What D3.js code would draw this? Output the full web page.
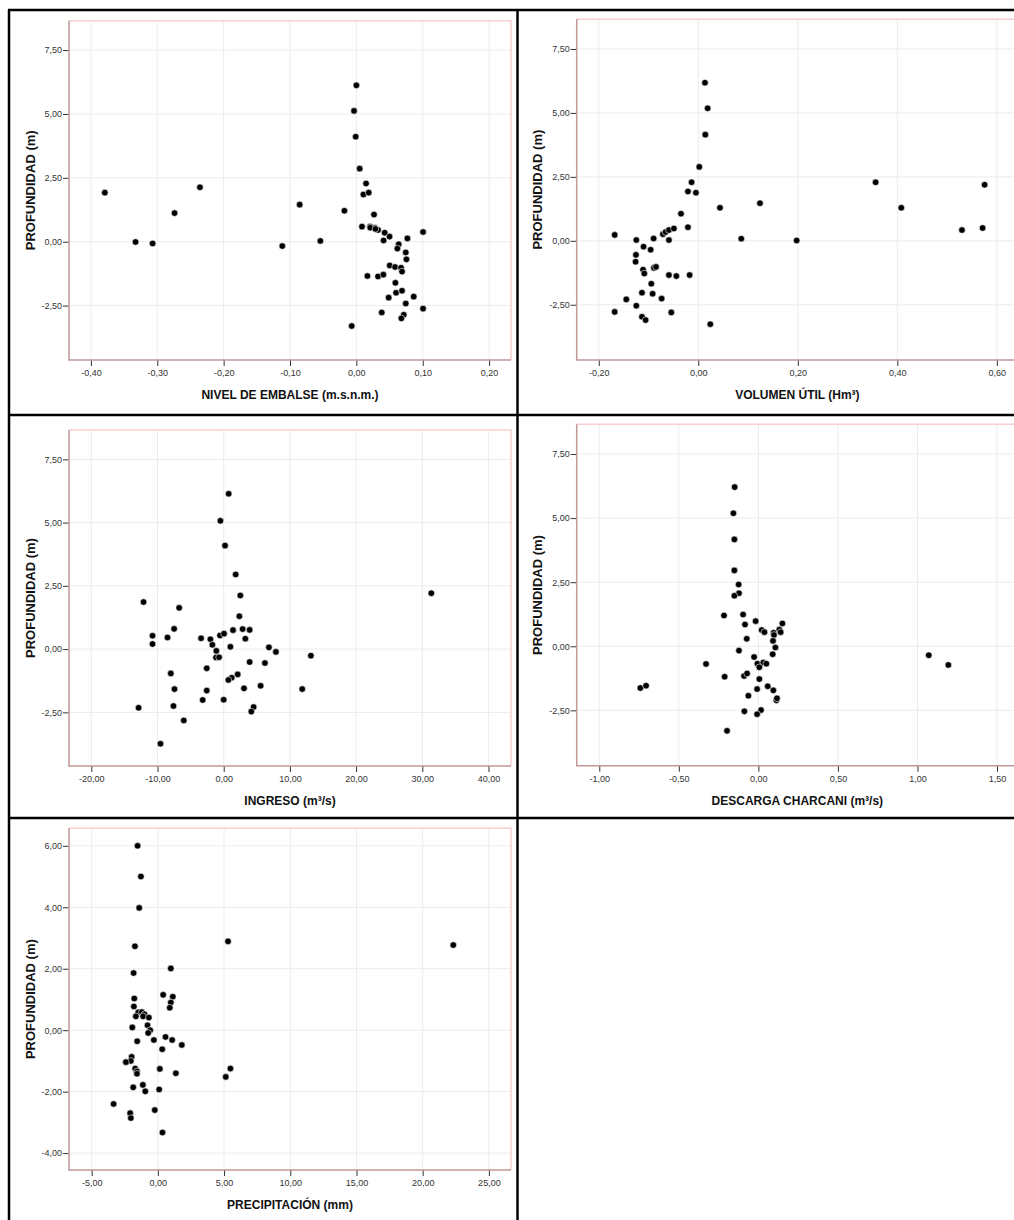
<!DOCTYPE html>
<html>
<head>
<meta charset="utf-8">
<script src="https://cdn.jsdelivr.net/npm/d3@7"></script>
<style>
html,body{margin:0;padding:0;background:#fff;}
svg{display:block;}
text{font-family:"Liberation Sans",Arial,sans-serif;}
</style>
</head>
<body>
<svg id="chart" width="1014" height="1220"></svg>
<script>
// ---------- DATA ----------
const yLabel = "PROFUNDIDAD (m)";

const nivelX = [0.000,-0.0035,-0.001,0.005,0.0146,0.0106,0.0186,-0.379,-0.2357,-0.274,-0.0854,-0.018,0.0266,-0.3327,-0.307,-0.1116,-0.0543,0.0085,0.0206,0.028,0.0327,0.0427,0.050,0.041,0.0769,0.1005,0.0638,0.0618,0.0744,0.0754,0.0503,0.0583,0.0673,0.0688,0.0166,0.0327,0.0407,0.0588,0.0598,0.0688,0.0487,0.0864,0.0744,0.1005,0.0382,0.0714,0.0678,-0.007,0.021,0.0287];
const nivelY = [6.12,5.12,4.11,2.86,2.28,1.85,1.92,1.92,2.13,1.12,1.45,1.21,1.06,-0.01,-0.07,-0.17,0.03,0.59,0.59,0.54,0.46,0.35,0.20,0.05,0.13,0.38,-0.10,-0.27,-0.42,-0.69,-0.93,-0.99,-1.02,-1.17,-1.34,-1.36,-1.29,-1.61,-2.00,-1.92,-2.19,-2.15,-2.42,-2.62,-2.77,-2.86,-3.00,-3.30,0.55,0.50];
const nivelTicks = [-0.4,-0.3,-0.2,-0.1,0,0.1,0.2];

const volX = [0.0134,0.0188,0.0141,0.002,-0.0134,-0.0208,-0.0047,0.3565,0.5755,0.408,0.124,0.0436,-0.0348,0.530,0.5715,0.0864,0.1977,-0.168,-0.1246,-0.0898,-0.059,-0.071,-0.0657,-0.059,-0.049,-0.0208,-0.110,-0.0958,-0.1253,-0.126,-0.111,-0.1085,-0.0891,-0.085,-0.059,-0.0442,-0.0174,-0.0945,-0.1132,-0.0918,-0.0737,-0.1447,-0.1246,-0.168,-0.0543,-0.1132,-0.1059,0.0241];
const volY = [6.18,5.18,4.15,2.89,2.29,1.93,1.88,2.29,2.19,1.29,1.47,1.29,1.06,0.42,0.50,0.08,0.01,0.23,0.03,0.09,0.03,0.26,0.34,0.42,0.48,0.53,-0.23,-0.35,-0.55,-0.82,-1.13,-1.28,-1.06,-1.02,-1.34,-1.38,-1.34,-1.68,-2.03,-2.07,-2.26,-2.29,-2.54,-2.78,-2.80,-2.97,-3.10,-3.26];
const volTicks = [-0.2,0,0.2,0.4,0.6];

const ingX = [0.75,-0.50,0.20,1.81,2.51,31.36,-12.11,-6.73,2.36,-7.49,-10.75,-10.75,-8.49,-3.42,-2.01,-1.71,-0.55,0.05,1.41,2.86,3.92,3.27,1.01,-1.11,-1.16,-0.70,6.83,7.89,13.17,3.92,6.23,-2.56,-7.99,2.11,1.21,0.70,-7.44,-2.56,3.07,5.58,11.86,-3.17,0.0,-7.59,-12.86,4.52,4.17,-6.03,-9.55];
const ingY = [6.14,5.07,4.09,2.95,2.12,2.21,1.86,1.63,1.30,0.80,0.53,0.20,0.46,0.43,0.39,0.17,0.54,0.61,0.75,0.79,0.76,0.41,0.09,-0.07,-0.33,-0.32,0.07,-0.11,-0.26,-0.51,-0.55,-0.76,-0.96,-1.00,-1.13,-1.22,-1.58,-1.64,-1.55,-1.45,-1.58,-2.01,-2.00,-2.25,-2.32,-2.29,-2.47,-2.82,-3.74];
const ingTicks = [-20,-10,0,10,20,30,40];

const desX = [-0.149,-0.157,-0.151,-0.151,-0.124,-0.122,-0.151,-0.216,-0.096,-0.084,-0.017,0.021,0.038,0.096,0.098,0.132,0.140,0.151,-0.073,0.092,0.107,-0.122,0.090,-0.027,-0.329,-0.006,0.031,0.050,0.006,1.071,1.194,-0.212,-0.090,-0.071,0.006,-0.742,-0.706,0.059,-0.008,0.094,-0.063,0.113,0.117,-0.088,0.017,-0.008,-0.197];
const desY = [6.21,5.19,4.17,2.96,2.41,2.07,1.97,1.20,1.24,0.85,0.98,0.63,0.55,0.53,0.44,0.65,0.55,0.89,0.29,0.21,-0.05,-0.17,-0.31,-0.42,-0.69,-0.68,-0.64,-0.68,-0.82,-0.35,-0.73,-1.19,-1.16,-1.06,-1.28,-1.63,-1.54,-1.56,-1.67,-1.72,-1.93,-2.11,-2.03,-2.54,-2.49,-2.65,-3.30];
const desTicks = [-1,-0.5,0,0.5,1,1.5];

const preX = [-1.53,-1.28,-1.41,5.30,22.31,-1.73,-1.83,0.98,0.40,1.13,0.98,0.90,-1.78,-1.81,-1.48,-1.21,-1.01,-1.11,-1.66,-0.68,-0.78,-0.58,-0.73,-1.93,-1.56,-0.30,0.58,1.08,1.81,0.33,-1.98,-2.04,-2.41,-1.71,-1.58,-1.58,0.15,1.36,5.48,5.13,-1.86,-1.13,-0.95,0.10,-3.34,-2.09,-2.04,-0.23,0.35];
const preY = [6.00,5.00,3.98,2.89,2.77,2.73,1.86,2.01,1.15,1.09,0.90,0.73,1.03,0.77,0.58,0.59,0.52,0.45,0.45,0.41,0.16,0.00,-0.09,0.09,-0.36,-0.32,-0.22,-0.32,-0.48,-0.62,-0.87,-1.00,-1.04,-1.25,-1.34,-1.42,-1.26,-1.40,-1.25,-1.52,-1.86,-1.78,-1.99,-1.93,-2.40,-2.70,-2.86,-2.60,-3.33];
const preTicks = [-5,0,5,10,15,20,25];

const yTicksA = [-2.5,0,2.5,5,7.5];
const yTicksB = [-4,-2,0,2,4,6];

// ---------- LAYOUT ----------
const panels = [
  {xs:nivelX, ys:nivelY, xt:nivelTicks, yt:yTicksA, xlab:"NIVEL DE EMBALSE (m.s.n.m.)",
   xd:[-0.433,0.233], yd:[-4.63,8.65], L:69, R:511, T:20.7, B:360, labX:34.5},
  {xs:volX, ys:volY, xt:volTicks, yt:yTicksA, xlab:"VOLUMEN ÚTIL (Hm³)",
   xd:[-0.2444,0.6426], yd:[-4.66,8.66], L:576.7, R:1018, T:19.3, B:360, labX:541.5},
  {xs:ingX, ys:ingY, xt:ingTicks, yt:yTicksA, xlab:"INGRESO (m³/s)",
   xd:[-23.37,43.4], yd:[-4.62,8.66], L:69, R:511, T:430, B:766, labX:34.5},
  {xs:desX, ys:desY, xt:desTicks, yt:yTicksA, xlab:"DESCARGA CHARCANI (m³/s)",
   xd:[-1.142,1.632], yd:[-4.66,8.66], L:576.7, R:1018, T:424.3, B:765.7, labX:541.5},
  {xs:preX, ys:preY, xt:preTicks, yt:yTicksB, xlab:"PRECIPITACIÓN (mm)",
   xd:[-6.71,26.67], yd:[-4.55,6.57], L:69, R:511, T:828.3, B:1170, labX:34.5}
];

const fmt = v => (Math.abs(v) < 1e-9 ? 0 : v).toFixed(2).replace('.', ',');
const svg = d3.select("#chart");

panels.forEach(p => {
  const x = d3.scaleLinear().domain(p.xd).range([p.L, p.R]);
  const y = d3.scaleLinear().domain(p.yd).range([p.B, p.T]);
  const g = svg.append("g");

  // gridlines
  g.selectAll(".gx").data(p.xt).enter().append("line")
    .attr("x1", d => x(d)).attr("x2", d => x(d))
    .attr("y1", p.T).attr("y2", p.B)
    .attr("stroke", "#ececec").attr("stroke-width", 1);
  g.selectAll(".gy").data(p.yt).enter().append("line")
    .attr("x1", p.L).attr("x2", p.R)
    .attr("y1", d => y(d)).attr("y2", d => y(d))
    .attr("stroke", "#ececec").attr("stroke-width", 1);

  // frame top/right
  g.append("path")
    .attr("d", `M${p.L},${p.T}H${p.R}V${p.B}`)
    .attr("fill", "none").attr("stroke", "#f7cfcf").attr("stroke-width", 1.5);

  // axes
  const xa = g.append("g").attr("transform", `translate(0,${p.B})`)
    .call(d3.axisBottom(x).tickValues(p.xt).tickFormat(fmt).tickSize(6).tickPadding(4));
  const ya = g.append("g").attr("transform", `translate(${p.L},0)`)
    .call(d3.axisLeft(y).tickValues(p.yt).tickFormat(fmt).tickSize(6).tickPadding(1));
  [xa, ya].forEach(a => {
    a.select(".domain").remove();
    a.selectAll("line").attr("stroke", "#333");
    a.selectAll("text").attr("font-size", 9).attr("fill", "#333")
      .attr("font-family", '"Liberation Sans", Arial, sans-serif');
  });

  // frame left/bottom
  g.append("path")
    .attr("d", `M${p.L},${p.T}V${p.B}H${p.R}`)
    .attr("fill", "none").attr("stroke", "#c49797").attr("stroke-width", 1.5);

  // points
  g.selectAll("circle").data(p.xs.map((v, i) => [v, p.ys[i]])).enter().append("circle")
    .attr("cx", d => x(d[0])).attr("cy", d => y(d[1])).attr("r", 3.3)
    .attr("fill", "#000").attr("stroke", "#fff").attr("stroke-width", 0.6);

  // labels
  g.append("text").attr("x", (p.L + p.R) / 2).attr("y", p.B + 39)
    .attr("text-anchor", "middle").attr("font-size", 12).attr("font-weight", "bold")
    .attr("fill", "#111").text(p.xlab);
  g.append("text")
    .attr("transform", `translate(${p.labX},${(p.T + p.B) / 2}) rotate(-90)`)
    .attr("text-anchor", "middle").attr("font-size", 13).attr("font-weight", "bold")
    .attr("fill", "#111").text(yLabel);
});

// panel borders
const bw = 2.5;
const borders = [
  [8, 10, 1014, 10],
  [8, 415, 1014, 415],
  [8, 818, 1014, 818],
  [9, 10, 9, 1220],
  [517.5, 10, 517.5, 1220]
];
svg.selectAll(".border").data(borders).enter().append("line")
  .attr("x1", d => d[0]).attr("y1", d => d[1]).attr("x2", d => d[2]).attr("y2", d => d[3])
  .attr("stroke", "#000").attr("stroke-width", bw);
</script>
</body>
</html>
